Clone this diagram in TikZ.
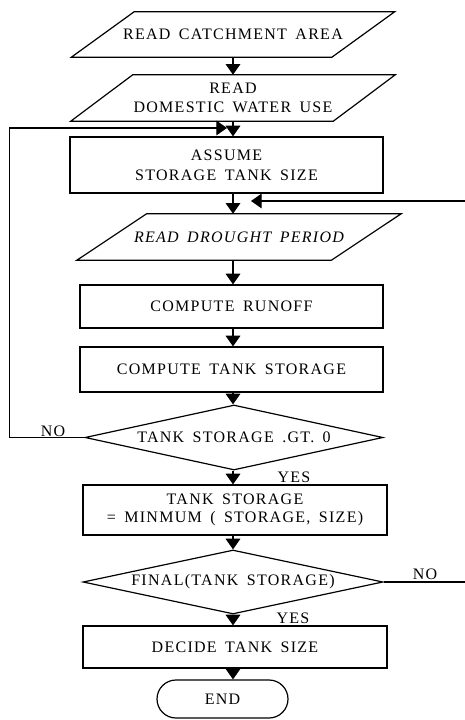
\documentclass[tikz,border=0pt]{standalone}
\usepackage{fontspec}
\setmainfont{Liberation Serif}[LetterSpace=8,WordSpace=1.6]
\usetikzlibrary{arrows.meta,shapes.geometric,shapes.misc}

\tikzset{
    box/.style={draw,line width=0.9pt,inner sep=0pt,align=center},
    iotext/.style={inner sep=0pt,align=center},
    test/.style={draw,diamond,aspect=4.6,line width=0.9pt,inner sep=0pt,align=center},
    stopbox/.style={draw,rounded rectangle,line width=0.9pt,inner sep=0pt},
    flow/.style={line width=0.9pt,-{Triangle[length=8pt,width=11pt]}},
    lbl/.style={inner sep=0pt},
}
% slanted input box drawn round a named text node
\newcommand{\ioframe}[2]{%
    \draw[line width=0.9pt] ([xshift=#2]#1.north west) -- ([xshift=#2]#1.north east)
        -- ([xshift=-#2]#1.south east) -- ([xshift=-#2]#1.south west) -- cycle;}

\begin{document}
\begin{tikzpicture}[x=0.75pt,y=-0.75pt,font=\fontsize{12}{15}\selectfont]
    \useasboundingbox (0,0) rectangle (464,720);
    \coordinate (col) at (233,0);
    %% Input
    \node[iotext,minimum width=260*0.75pt,minimum height=45*0.75pt] (catch) at (233,34.5) {READ CATCHMENT AREA};
    \ioframe{catch}{23.6pt}
    \node[iotext,minimum width=262*0.75pt,minimum height=46*0.75pt] (domestic) at (233,98) {READ\\[-1pt]DOMESTIC WATER USE};
    \ioframe{domestic}{23.3pt}
    \node[box,minimum width=313*0.75pt,minimum height=56*0.75pt] (assume) at (226.5,165) {ASSUME\\STORAGE TANK SIZE};
    \node[iotext,minimum width=254*0.75pt,minimum height=46*0.75pt] (drought) at (239,237) {\itshape READ DROUGHT PERIOD};
    \ioframe{drought}{26.2pt}
    %% Computation
    \node[box,minimum width=303*0.75pt,minimum height=43*0.75pt] (runoff) at (231.5,306.5) {COMPUTE RUNOFF};
    \node[box,minimum width=303*0.75pt,minimum height=45*0.75pt] (storage) at (231.5,369.5) {COMPUTE TANK STORAGE};
    \node[test,minimum width=298*0.75pt,minimum height=65*0.75pt] (positive) at (234,437.5) {TANK STORAGE .GT. 0};
    \node[box,minimum width=304*0.75pt,minimum height=50*0.75pt] (minimum) at (235,510) {TANK STORAGE\\[-2pt]= MINMUM ( STORAGE, SIZE)};
    \node[test,minimum width=300*0.75pt,minimum height=64*0.75pt] (final) at (233,582) {FINAL(TANK STORAGE)};
    \node[box,minimum width=304*0.75pt,minimum height=42*0.75pt] (decide) at (235,647) {DECIDE TANK SIZE};
    \node[stopbox,minimum width=131*0.75pt,minimum height=38*0.75pt] (end) at (222.5,699) {END};
    %% Main column
    \draw[flow] (catch.south -| col) -- (domestic.north -| col);
    \draw[flow] (domestic.south -| col) -- (assume.north -| col);
    \draw[flow] (assume.south -| col) -- (drought.north -| col);
    \draw[flow] (drought.south -| col) -- (runoff.north -| col);
    \draw[flow] (runoff.south -| col) -- (storage.north -| col);
    \draw[flow] (storage.south -| col) -- (positive.north -| col);
    \draw[flow] (positive.south -| col) -- (minimum.north -| col);
    \draw[flow] (minimum.south -| col) -- (final.north -| col);
    \draw[flow] (final.south -| col) -- (decide.north -| col);
    \draw[flow] (decide.south -| col) -- (end.north -| col);
    %% Loops
    \coordinate (retry) at (227,128);
    \coordinate (redo) at (251,201);
    \draw[flow] (positive.west) -- ++(-75,0) |- (retry);
    \draw[flow] (final.east) -- (467,582) |- (redo);
    \node[lbl] (no1) at (53,431) {NO};
    \node[lbl] (yes1) at (294,477) {YES};
    \node[lbl] (no2) at (425,574) {NO};
    \node[lbl] (yes2) at (293,618) {YES};
\end{tikzpicture}
\end{document}
